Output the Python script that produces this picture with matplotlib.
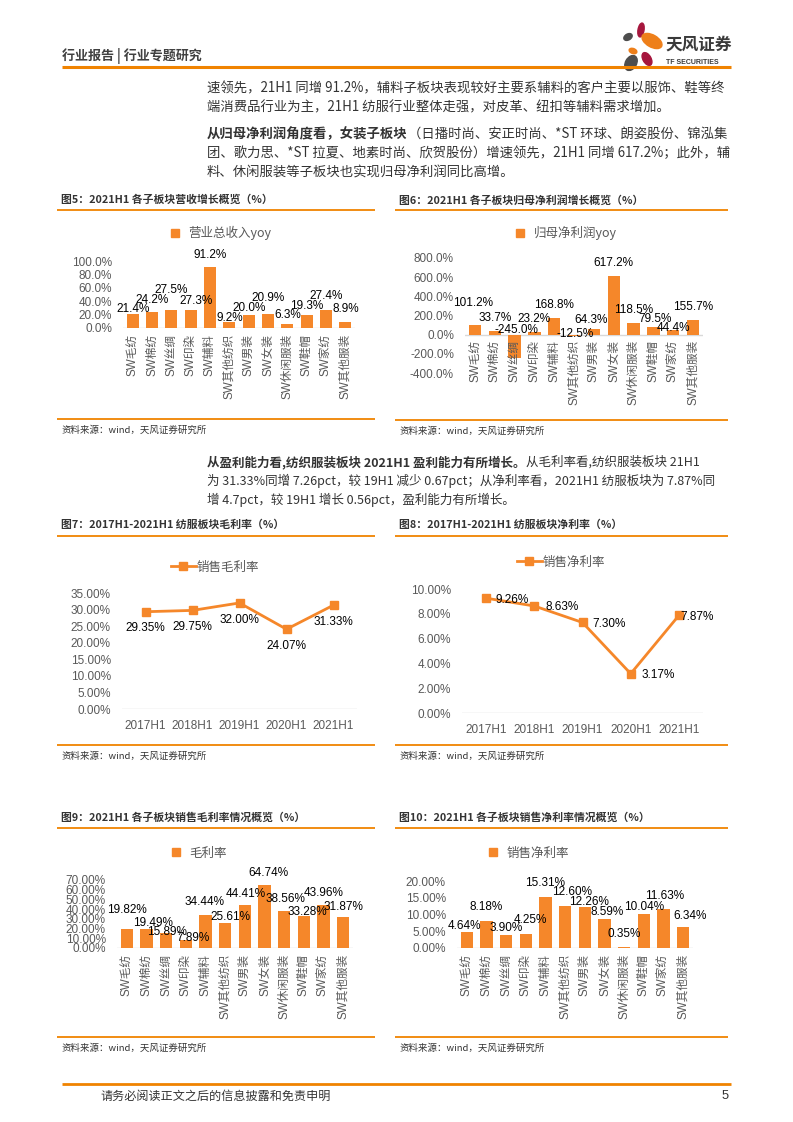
import matplotlib
matplotlib.use('Agg')
import matplotlib.pyplot as plt
from matplotlib.patches import Ellipse
from matplotlib.lines import Line2D

plt.rcParams['font.family'] = ['Liberation Sans', 'Noto Sans CJK SC', 'DejaVu Sans']

W, H = 793, 1122
ORANGE = '#F5872A'
LINE_OR = '#F08300'
GRID = '#D9D9D9'
TXT = '#333333'
TICK = '#595959'
CJK = ['Noto Sans CJK SC', 'DejaVu Sans']

# ---- data ----
sectors = ['SW毛纺', 'SW棉纺', 'SW丝绸', 'SW印染', 'SW辅料', 'SW其他纺织',
           'SW男装', 'SW女装', 'SW休闲服装', 'SW鞋帽', 'SW家纺', 'SW其他服装']
rev_yoy = [21.4, 24.2, 27.5, 27.3, 91.2, 9.2, 20.0, 20.9, 6.3, 19.3, 27.4, 8.9]
np_yoy = [101.2, 33.7, -245.0, 23.2, 168.8, -12.5, 64.3, 617.2, 118.5, 79.5, 44.4, 155.7]
periods = ['2017H1', '2018H1', '2019H1', '2020H1', '2021H1']
gross_margin = [29.35, 29.75, 32.00, 24.07, 31.33]
net_margin = [9.26, 8.63, 7.30, 3.17, 7.87]
sec_gross = [19.82, 19.49, 15.89, 7.89, 34.44, 25.61, 44.41, 64.74, 38.56, 33.28, 43.96, 31.87]
sec_net = [4.64, 8.18, 3.90, 4.25, 15.31, 12.60, 12.26, 8.59, 0.35, 10.04, 11.63, 6.34]

# data label placement (label centre height in axis units, x shift in bar slots)
rev_lab_y = [28, 41.5, 56.5, 40.5, 109, 15, 30, 45.5, 19, 33, 47.5, 28]
rev_lab_dx = [0, 0, 0, 0.3, 0, 0, 0, 0, 0, 0, 0, 0]
np_lab_y = [327, 172, 45, 162, 310, 10, 155, 748, 259, 162, 69, 286]
np_lab_dx = [-0.1, 0, 0.1, 0, 0, 0.05, -0.15, 0, 0, 0.1, 0, 0]
gm_lab_y = [39, 26, 16.8, 10, 47.7, 32, 55.6, 77.6, 50.8, 37.4, 57, 42]
gm_lab_dx = [0, 0.34, 0.03, 0.34, -0.05, 0.25, 0.03, 0.2, 0.08, 0.17, 0, 0]
nm_lab_y = [6.6, 12.1, 5.9, 8.4, 19.3, 16.8, 13.8, 10.7, 4.2, 12.3, 15.5, 9.5]
nm_lab_dx = [-0.1, 0, 0, 0.22, 0, 0.33, 0.2, 0.15, 0, 0.03, 0.08, 0.33]

fig = plt.figure(figsize=(W / 100, H / 100), dpi=100)
bg = fig.add_axes([0, 0, 1, 1])
bg.set_xlim(0, W)
bg.set_ylim(H, 0)
bg.axis('off')


def axes_px(x0, y0, x1, y1):
    return fig.add_axes([x0 / W, 1 - y1 / H, (x1 - x0) / W, (y1 - y0) / H])


def hline(y, x0, x1, lw=1.3, c=LINE_OR):
    bg.plot([x0, x1], [y, y], color=c, lw=lw, solid_capstyle='butt')


def mixed_line(x, y, bold, normal, size=9.6):
    t = bg.text(x, y, bold, fontsize=size, fontweight='bold', color=TXT,
                family=CJK, va='bottom')
    if normal:
        bg.annotate(normal, xy=(1, 0), xycoords=t, fontsize=size, color=TXT,
                    family=CJK, va='bottom', ha='left')


# ---- header ----
bg.text(62, 56, '行业报告 | 行业专题研究', fontsize=9.4, fontweight='bold',
        color='#404040', family=CJK, va='center')
hline(67, 62, 731, lw=2.2)
for (cx, cy, w, h, ang, col) in [(628, 37, 9, 6, -30, '#4D4D4D'),
                                 (641, 30, 6, 14, 10, '#A6163D'),
                                 (652, 41, 12, 22, -60, '#EE7F1A'),
                                 (633, 51, 8, 5, 20, '#EE7F1A'),
                                 (631, 63, 11, 16, 30, '#4D4D4D'),
                                 (647, 59, 8, 14, -30, '#A6163D')]:
    bg.add_patch(Ellipse((cx, cy), w, h, angle=ang, color=col))
bg.text(665, 45, '天风证券', fontsize=12, fontweight='bold', color='#3A3A3A',
        family=CJK, va='center')
bg.text(666, 62, 'TF SECURITIES', fontsize=5, fontweight='bold', color='#3A3A3A',
        va='center')

# ---- body text ----
mixed_line(207, 95, '', '速领先，21H1 同增 91.2%，辅料子板块表现较好主要系辅料的客户主要以服饰、鞋等终')
mixed_line(207, 114, '', '端消费品行业为主，21H1 纺服行业整体走强，对皮革、纽扣等辅料需求增加。')
mixed_line(207, 141, '从归母净利润角度看，女装子板块', '（日播时尚、安正时尚、*ST 环球、朗姿股份、锦泓集')
mixed_line(207, 160, '', '团、歌力思、*ST 拉夏、地素时尚、欣贺股份）增速领先，21H1 同增 617.2%；此外，辅')
mixed_line(207, 180, '', '料、休闲服装等子板块也实现归母净利润同比高增。')
mixed_line(207, 469, '从盈利能力看,纺织服装板块 2021H1 盈利能力有所增长。', '从毛利率看,纺织服装板块 21H1', size=9.0)
mixed_line(207, 488, '', '为 31.33%同增 7.26pct，较 19H1 减少 0.67pct；从净利率看，2021H1 纺服板块为 7.87%同', size=9.0)
mixed_line(207, 507, '', '增 4.7pct，较 19H1 增长 0.56pct，盈利能力有所增长。', size=9.0)


def frame(x0, x1, ytitle, yline_top, yline_bot, title):
    bg.text(x0 + 4, ytitle, title, fontsize=7.8, fontweight='bold', color=TXT,
            family=CJK, va='center')
    hline(yline_top, x0, x1)
    hline(yline_bot, x0, x1)
    bg.text(x0 + 4, yline_bot + 11, '资料来源：wind，天风证券研究所', fontsize=6.8,
            color=TXT, family=CJK, va='center')


def make_ticks(ylim, step):
    ticks = []
    t = ylim[0]
    while t <= ylim[1] + 1e-9:
        ticks.append(t)
        t += step
    return ticks


def bar_panel(rect, vals, ylim, step, fmt, lab_y, lab_dx, legend, leg_xy):
    ax = axes_px(*rect)
    xs = list(range(len(vals)))
    ax.bar(xs, vals, width=0.62, color=ORANGE, zorder=2)
    ax.set_xlim(-0.5, len(vals) - 0.5)
    ax.set_ylim(*ylim)
    ticks = make_ticks(ylim, step)
    ax.set_yticks(ticks)
    ax.set_yticklabels([fmt.format(v) for v in ticks], fontsize=8.5, color=TICK)
    ax.tick_params(length=0, pad=8)
    ax.set_xticks([])
    for s in ax.spines.values():
        s.set_visible(False)
    ax.axhline(0, color=GRID, lw=1, zorder=1)
    for i, v in enumerate(vals):
        ax.text(i + lab_dx[i], lab_y[i], fmt.format(v), ha='center', va='center',
                fontsize=8.5, color='black', clip_on=False, zorder=3)
        ax.annotate(sectors[i], (i, 0), xytext=(0, -4), textcoords='offset points',
                    rotation=90, ha='center', va='top', fontsize=8.4, color=TICK,
                    annotation_clip=False)
    h = Line2D([], [], marker='s', color=ORANGE, ls='none', markersize=6)
    ax.legend([h], [legend], loc='center', frameon=False,
              bbox_to_anchor=(leg_xy[0] / W, 1 - leg_xy[1] / H),
              bbox_transform=fig.transFigure, handletextpad=0.1, labelcolor=TICK,
              prop={'family': CJK, 'size': 9})
    return ax


def line_panel(rect, vals, ylim, step, lab_off, lab_ha, legend, leg_xy):
    ax = axes_px(*rect)
    xs = list(range(len(vals)))
    ax.plot(xs, vals, color=ORANGE, lw=2, marker='s', markersize=6, zorder=3)
    ax.set_xlim(-0.5, len(vals) - 0.5)
    ax.set_ylim(*ylim)
    ticks = make_ticks(ylim, step)
    ax.set_yticks(ticks)
    ax.set_yticklabels(['{:.2f}%'.format(v) for v in ticks], fontsize=8.5, color=TICK)
    ax.set_xticks(xs)
    ax.set_xticklabels(periods, fontsize=8.5, color=TICK)
    ax.tick_params(length=0, pad=8)
    for s in ax.spines.values():
        s.set_visible(False)
    ax.axhline(0, color=GRID, lw=1, zorder=1)
    for i, v in enumerate(vals):
        ax.annotate('{:.2f}%'.format(v), (i, v), xytext=lab_off[i], textcoords='offset points',
                    ha=lab_ha, va='center', fontsize=8.5, color='black', annotation_clip=False)
    h = Line2D([], [], marker='s', color=ORANGE, lw=2, markersize=6)
    ax.legend([h], [legend], loc='center', frameon=False,
              bbox_to_anchor=(leg_xy[0] / W, 1 - leg_xy[1] / H),
              bbox_transform=fig.transFigure, handletextpad=0.1, handlelength=2,
              labelcolor=TICK, prop={'family': CJK, 'size': 9})
    return ax


# ---- figure 5 / 6 ----
frame(57, 375, 200, 210, 419, '图5：2021H1 各子板块营收增长概览（%）')
frame(395, 728, 200, 210, 420, '图6：2021H1 各子板块归母净利润增长概览（%）')
bar_panel((123, 261, 355, 328), rev_yoy, (0, 100), 20, '{:.1f}%', rev_lab_y, rev_lab_dx,
          '营业总收入yoy', (217, 233))
bar_panel((465, 258, 703, 373), np_yoy, (-400, 800), 200, '{:.1f}%', np_lab_y, np_lab_dx,
          '归母净利润yoy', (562, 233))

# ---- figure 7 / 8 ----
frame(57, 375, 525, 536, 745, '图7：2017H1-2021H1 纺服板块毛利率（%）')
frame(395, 728, 525, 536, 745, '图8：2017H1-2021H1 纺服板块净利率（%）')
line_panel((122, 593, 357, 709), gross_margin, (0, 35), 5,
           [(0, -12)] * 5, 'center', '销售毛利率', (215, 567))
line_panel((462, 589, 703, 713), net_margin, (0, 10), 2,
           [(7, -1), (8, -1), (7, -1), (8, -1), (1, -1)], 'left', '销售净利率', (561, 562))

# ---- figure 9 / 10 ----
frame(57, 375, 818, 828, 1037, '图9：2021H1 各子板块销售毛利率情况概览（%）')
frame(395, 728, 818, 828, 1037, '图10：2021H1 各子板块销售净利率情况概览（%）')
bar_panel((117, 880, 353, 948), sec_gross, (0, 70), 10, '{:.2f}%', gm_lab_y, gm_lab_dx,
          '毛利率', (195, 853))
bar_panel((457, 881, 693, 948), sec_net, (0, 20), 5, '{:.2f}%', nm_lab_y, nm_lab_dx,
          '销售净利率', (525, 853))

# ---- footer ----
hline(1084, 62, 731, lw=2)
bg.text(100, 1096, '请务必阅读正文之后的信息披露和免责申明', fontsize=8.7, color=TXT,
        family=CJK, va='center')
bg.text(722, 1096, '5', fontsize=9.3, color=TXT, va='center')

fig.savefig('out.png', dpi=100)
